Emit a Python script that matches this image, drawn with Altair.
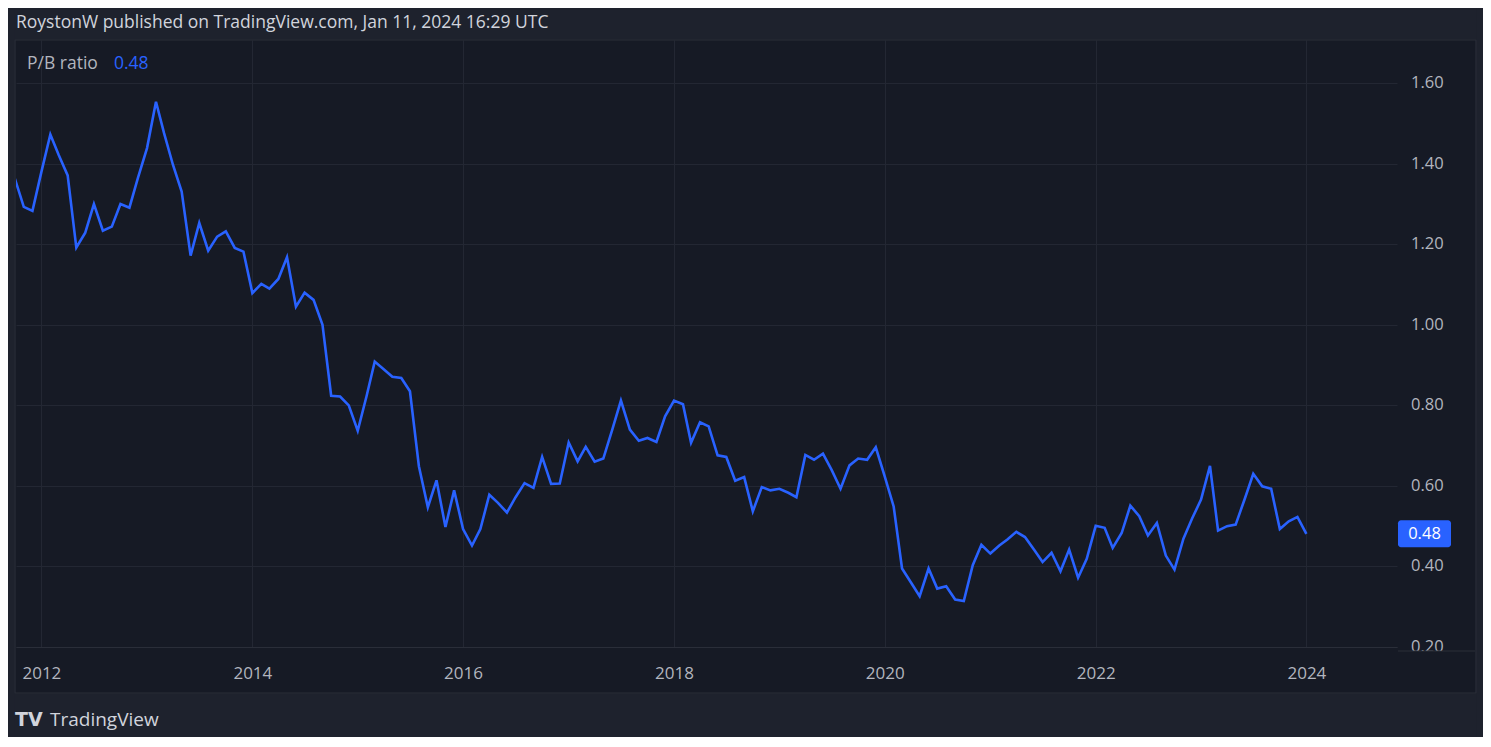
import altair as alt
import pandas as pd

# ---- data ----
start_month = "2011-10-01"
pb_values = [
    1.363, 1.293, 1.283,
    1.380, 1.473, 1.422, 1.371, 1.192, 1.229, 1.300, 1.234, 1.244, 1.300, 1.291, 1.366,
    1.439, 1.554, 1.476, 1.397, 1.331, 1.172, 1.253, 1.184, 1.219, 1.232, 1.191, 1.182,
    1.079, 1.102, 1.090, 1.114, 1.168, 1.045, 1.080, 1.062, 1.000, 0.824, 0.822, 0.800,
    0.737, 0.824, 0.909, 0.890, 0.871, 0.868, 0.835, 0.649, 0.547, 0.614, 0.498, 0.589,
    0.493, 0.452, 0.493, 0.578, 0.558, 0.534, 0.572, 0.607, 0.595, 0.672, 0.605, 0.606,
    0.708, 0.661, 0.697, 0.660, 0.668, 0.740, 0.812, 0.740, 0.712, 0.719, 0.709, 0.773,
    0.812, 0.803, 0.707, 0.758, 0.748, 0.676, 0.672, 0.613, 0.622, 0.537, 0.597, 0.589,
    0.593, 0.583, 0.572, 0.677, 0.665, 0.680, 0.640, 0.593, 0.651, 0.668, 0.665, 0.696,
    0.624, 0.549, 0.395, 0.360, 0.326, 0.395, 0.345, 0.351, 0.318, 0.314, 0.403, 0.454,
    0.432, 0.452, 0.467, 0.486, 0.473, 0.442, 0.411, 0.434, 0.388, 0.442, 0.372, 0.419,
    0.501, 0.496, 0.446, 0.483, 0.551, 0.525, 0.477, 0.508, 0.427, 0.392, 0.469, 0.519,
    0.566, 0.650, 0.489, 0.500, 0.504, 0.567, 0.630, 0.599, 0.593, 0.493, 0.512, 0.523,
    0.481,
]
y_ticks = [0.20, 0.40, 0.60, 0.80, 1.00, 1.20, 1.40, 1.60]
x_tick_years = [2012, 2014, 2016, 2018, 2020, 2022, 2024]
x_domain = ["2011-10-05", "2024-11-10"]
y_domain = [0.2, 1.7074]

header_text = "RoystonW published on TradingView.com, Jan 11, 2024 16:29 UTC"
series_name = "P/B ratio"
brand_text = "TradingView"
logo_text = "TV"
last_value = pb_values[-1]

# ---- styling ----
W, H = 1381, 607
BG = "#1e222d"
PANE = "#161a25"
BORDER = "#2a2e39"
GRID = "#232733"
BLUE = "#2962ff"
TXT = "#b2b5be"
FONT = "Open Sans"

df = pd.DataFrame({
    "date": pd.date_range(start=start_month, periods=len(pb_values), freq="MS").strftime("%Y-%m-%d"),
    "pb": pb_values,
})
one = pd.DataFrame({"a": [0]})
last_df = pd.DataFrame({"v": [last_value], "label": [f"{last_value:.2f}"]})
ticks_df = pd.DataFrame({"v": y_ticks, "label": [f"{v:.2f}" for v in y_ticks]})

xscale = alt.Scale(type="utc", domain=x_domain)
yscale = alt.Scale(domain=y_domain, nice=False, zero=False)


def band(x0, x1, y0, y1, color):
    return alt.Chart(one).mark_rect(fill=color, clip=False).encode(
        x=alt.value(x0), x2=alt.value(x1), y=alt.value(y0), y2=alt.value(y1)
    )


# outer (page) bands around the pane; the canvas background is the pane colour
outer_top = band(-10, W + 96, -40, -0.6, BG)
outer_bottom = band(-10, W + 96, H + 46.6, H + 110, BG)
outer_left = band(-10, -1.6, -40, H + 110, BG)
outer_right = band(W + 79.6, W + 96, -40, H + 110, BG)
pane_border = alt.Chart(one).mark_rect(fill=None, stroke=BORDER, strokeWidth=1.2, clip=False).encode(
    x=alt.value(-1), x2=alt.value(W + 79), y=alt.value(0), y2=alt.value(H + 46)
)

line = alt.Chart(df).mark_line(color=BLUE, strokeWidth=2.6, clip=True).encode(
    x=alt.X("date:T", scale=xscale,
            axis=alt.Axis(values=[alt.DateTime(year=y, month=1, date=1, utc=True) for y in x_tick_years],
                          format="%Y", formatType="utc", title=None, grid=True, gridColor=GRID,
                          domain=True, domainColor=BORDER, domainWidth=1.2, ticks=False,
                          labelColor=TXT, labelFontSize=17, labelFont=FONT,
                          labelBaseline="middle", labelPadding=26, labelFlush=False)),
    y=alt.Y("pb:Q", scale=yscale,
            axis=alt.Axis(values=y_ticks, orient="right", labels=False, ticks=False, domain=False,
                          grid=True, gridColor=GRID, title=None)),
)

ylabels = alt.Chart(ticks_df).mark_text(align="left", baseline="middle", font=FONT, fontSize=16.5,
                                         color=TXT, clip=False).encode(
    x=alt.value(W + 14), y=alt.Y("v:Q", scale=yscale), text="label:N"
)

cover = band(W + 1, W + 78, H + 4, H + 45, PANE)
cover_line = alt.Chart(one).mark_rule(color=BORDER, strokeWidth=1.2, clip=False).encode(
    x=alt.value(W + 1), x2=alt.value(W + 78), y=alt.value(H + 4)
)

badge = alt.Chart(last_df).mark_rect(color=BLUE, cornerRadius=3, yOffset=-13.5, y2Offset=13.5,
                                      clip=False).encode(
    x=alt.value(W + 1), x2=alt.value(W + 54), y=alt.Y("v:Q", scale=yscale), y2="v:Q"
)
badge_txt = alt.Chart(last_df).mark_text(align="center", baseline="middle", font=FONT, fontSize=16.5,
                                          color="#ffffff", clip=False).encode(
    x=alt.value(W + 27.5), y=alt.Y("v:Q", scale=yscale), text="label:N"
)

header = alt.Chart(one).mark_text(align="left", baseline="middle", font=FONT, fontSize=17.5,
                                  color="#d1d4dc", clip=False).encode(
    x=alt.value(0), y=alt.value(-17), text=alt.value(header_text)
)
legend_name = alt.Chart(one).mark_text(align="left", baseline="middle", font=FONT, fontSize=17.5,
                                       color=TXT, clip=False).encode(
    x=alt.value(11), y=alt.value(24), text=alt.value(series_name)
)
legend_val = alt.Chart(last_df).mark_text(align="left", baseline="middle", font=FONT, fontSize=17.5,
                                          color=BLUE, clip=False).encode(
    x=alt.value(98), y=alt.value(24), text="label:N"
)
logo = alt.Chart(one).mark_text(align="left", baseline="middle", font="DejaVu Sans", fontSize=19,
                                fontWeight="bold", color="#d1d4dc", clip=False).encode(
    x=alt.value(-1), y=alt.value(680), text=alt.value(logo_text)
)
brand = alt.Chart(one).mark_text(align="left", baseline="middle", font=FONT, fontSize=19,
                                 color="#d1d4dc", clip=False).encode(
    x=alt.value(34), y=alt.value(680), text=alt.value(brand_text)
)

chart = alt.layer(
    outer_top, outer_bottom, outer_left, outer_right, pane_border,
    line, ylabels, cover, cover_line, badge, badge_txt,
    header, legend_name, legend_val, logo, brand
).properties(
    width=W, height=H,
    autosize=alt.AutoSizeParams(type="none"),
    padding={"left": 8, "top": 32, "right": 86, "bottom": 90},
    background=PANE,
).configure_view(stroke=None, fill=PANE)

chart.save("out.html", embed_options={"renderer": "svg", "actions": False})
